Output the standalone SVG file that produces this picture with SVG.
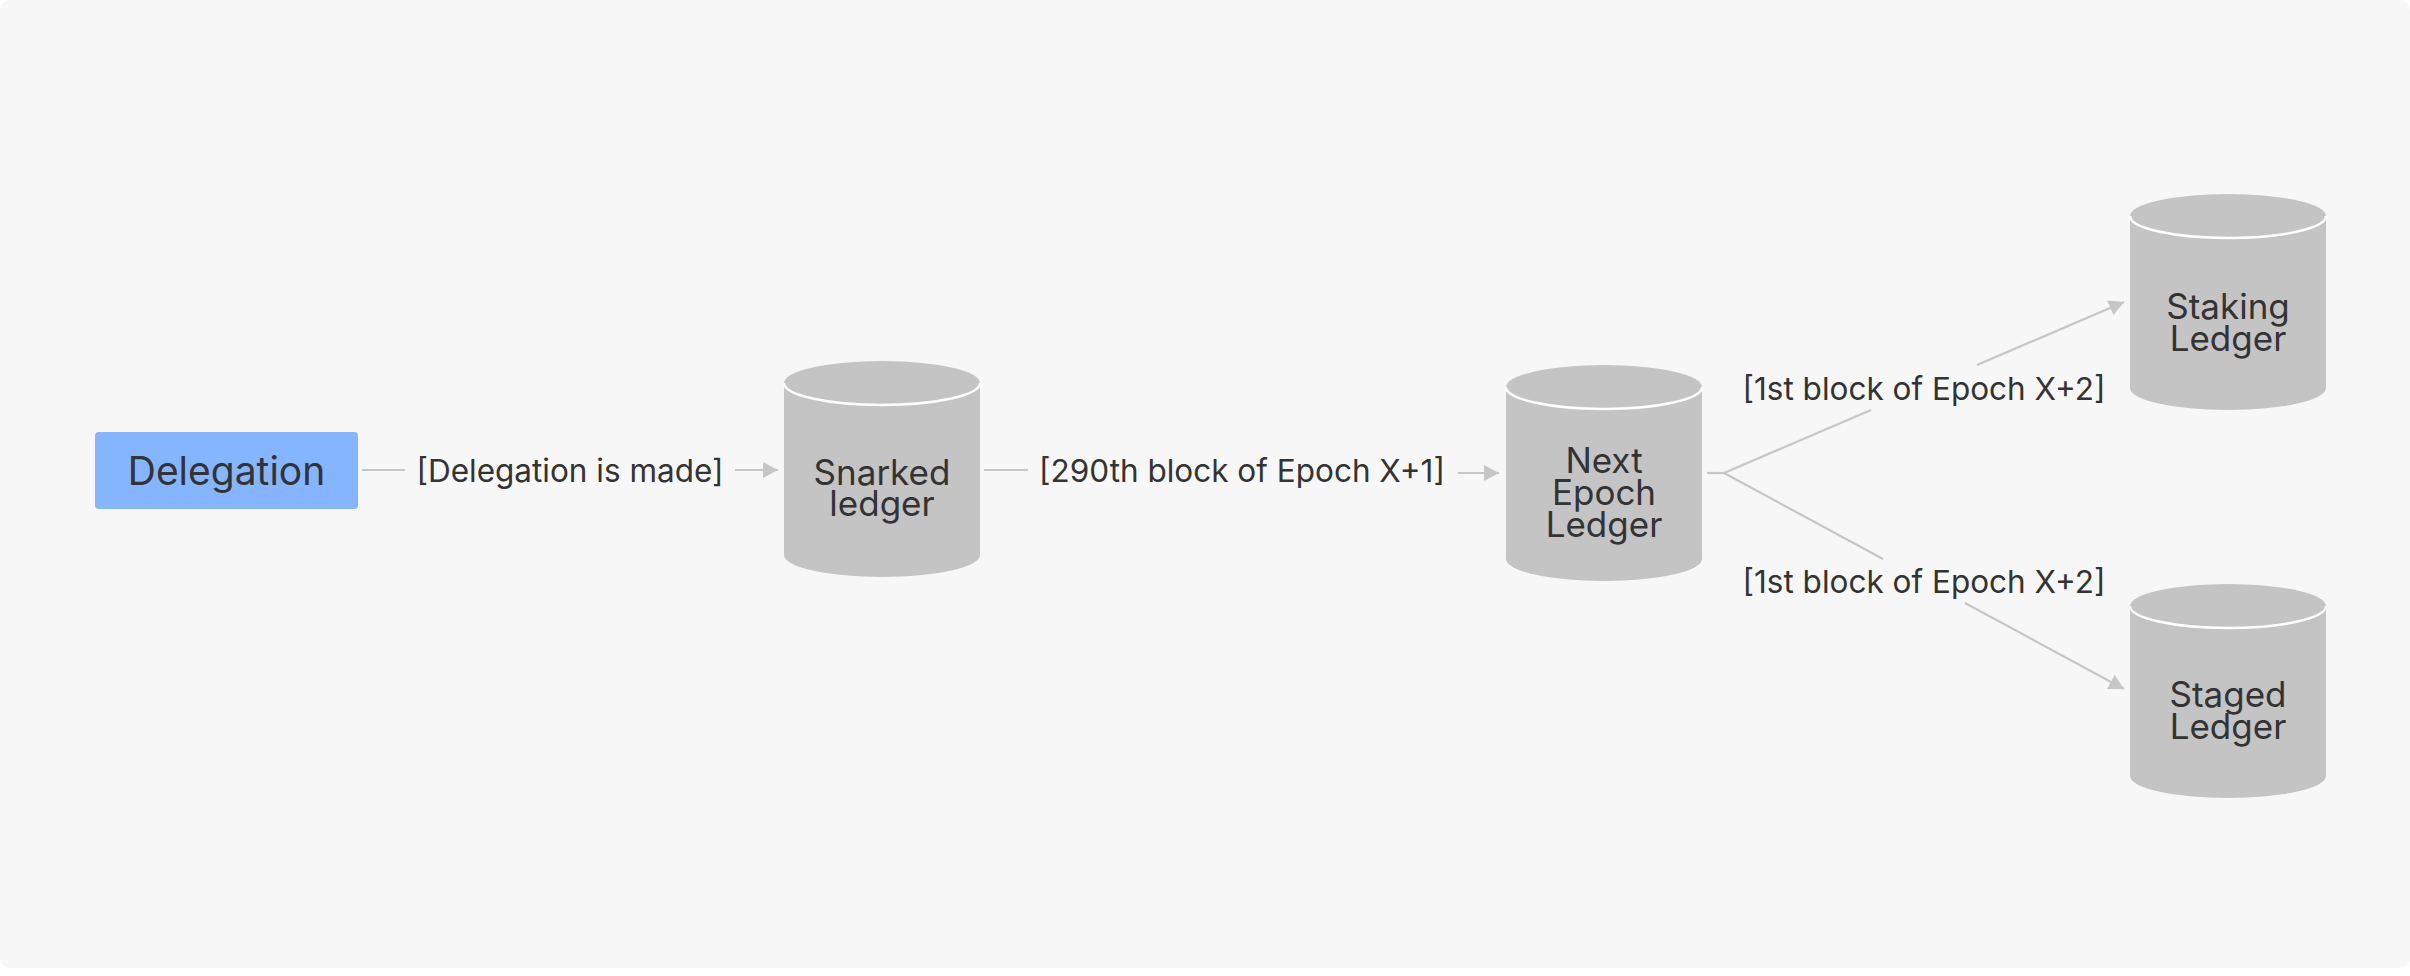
<svg xmlns="http://www.w3.org/2000/svg" width="2410" height="976" viewBox="0 0 2410 976">
<style>
.bg{fill:#f7f7f7}
.cyl{fill:#c4c4c4}
.rim{fill:none;stroke:#ffffff;stroke-width:2.5}
.nt{font-family:Inter,"Liberation Sans",sans-serif;font-size:35px;fill:#333333;text-anchor:middle}
.lbl{font-family:Inter,"Liberation Sans",sans-serif;font-size:31.5px;fill:#333333;text-anchor:middle}
.edge{fill:none;stroke:#c6c6c6;stroke-width:2.2}
</style>
<defs>
<marker id="ah" markerUnits="userSpaceOnUse" markerWidth="16" markerHeight="16" refX="15" refY="8" orient="auto" viewBox="0 0 16 16">
<path d="M0,0 L15,8 L0,16 z" fill="#c6c6c6"/>
</marker>
</defs>
<rect class="bg" x="0" y="0" width="2410" height="968" rx="10"/>

<g id="connectors">
<line class="edge" x1="362" y1="470" x2="405" y2="470"/>
<line class="edge" x1="735" y1="470" x2="778" y2="470" marker-end="url(#ah)"/>
<text class="lbl" x="570" y="482">[Delegation is made]</text>
<line class="edge" x1="984" y1="470" x2="1028" y2="470"/>
<line class="edge" x1="1458" y1="473" x2="1499" y2="473" marker-end="url(#ah)"/>
<text class="lbl" x="1242" y="482">[290th block of Epoch X+1]</text>
<line class="edge" x1="1707" y1="473" x2="1724" y2="473"/>
<line class="edge" x1="1724" y1="473" x2="1871" y2="410"/>
<line class="edge" x1="1977" y1="365" x2="2124" y2="302" marker-end="url(#ah)"/>
<text class="lbl" x="1924" y="400">[1st block of Epoch X+2]</text>
<line class="edge" x1="1724" y1="473" x2="1883" y2="559"/>
<line class="edge" x1="1965" y1="603" x2="2124" y2="689" marker-end="url(#ah)"/>
<text class="lbl" x="1924" y="593">[1st block of Epoch X+2]</text>
</g>

<g id="delegation">
<rect x="95" y="432" width="263" height="77" rx="4" fill="#85b5fe"/>
<text class="nt" x="226.5" y="485" style="font-size:39px">Delegation</text>
</g>

<g id="snarked">
<path class="cyl" d="M784,383 a98,22 0 0 1 196,0 v172 a98,22 0 0 1 -196,0 z"/>
<path class="rim" d="M784,383 a98,22 0 0 0 196,0"/>
<text class="nt"><tspan x="882" y="485">Snarked</tspan><tspan x="882" y="516">ledger</tspan></text>
</g>

<g id="nextepoch">
<path class="cyl" d="M1506,387 a98,22 0 0 1 196,0 v172 a98,22 0 0 1 -196,0 z"/>
<path class="rim" d="M1506,387 a98,22 0 0 0 196,0"/>
<text class="nt"><tspan x="1604" y="473">Next</tspan><tspan x="1604" y="505">Epoch</tspan><tspan x="1604" y="537">Ledger</tspan></text>
</g>

<g id="staking">
<path class="cyl" d="M2130,216 a98,22 0 0 1 196,0 v172 a98,22 0 0 1 -196,0 z"/>
<path class="rim" d="M2130,216 a98,22 0 0 0 196,0"/>
<text class="nt"><tspan x="2228" y="319">Staking</tspan><tspan x="2228" y="351">Ledger</tspan></text>
</g>

<g id="staged">
<path class="cyl" d="M2130,606 a98,22 0 0 1 196,0 v170 a98,22 0 0 1 -196,0 z"/>
<path class="rim" d="M2130,606 a98,22 0 0 0 196,0"/>
<text class="nt"><tspan x="2228" y="707">Staged</tspan><tspan x="2228" y="739">Ledger</tspan></text>
</g>
</svg>
